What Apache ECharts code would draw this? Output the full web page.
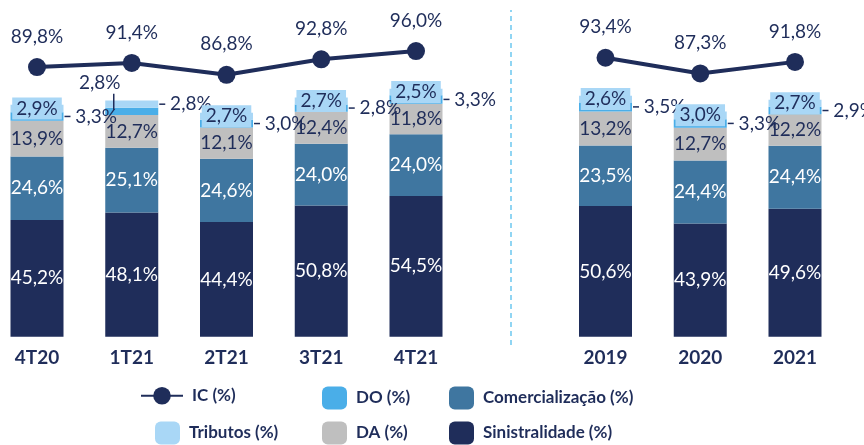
<!DOCTYPE html>
<html>
<head>
<meta charset="utf-8">
<script src="https://cdn.jsdelivr.net/npm/echarts@6/dist/echarts.min.js"></script>
<style>
  html, body { margin: 0; padding: 0; background: #fff; }
  #chart { width: 864px; height: 445px; }
</style>
</head>
<body>
<div id="chart"></div>
<script>
// periods (the empty slot is the gap between quarters and years)
const categories = ['4T20', '1T21', '2T21', '3T21', '4T21', '', '2019', '2020', '2021'];
const sinistralidade = [45.2, 48.1, 44.4, 50.8, 54.5, null, 50.6, 43.9, 49.6];
const comercializacao = [24.6, 25.1, 24.6, 24.0, 24.0, null, 23.5, 24.4, 24.4];
const da = [13.9, 12.7, 12.1, 12.4, 11.8, null, 13.2, 12.7, 12.2];
const doPct = [3.3, 2.8, 3.0, 2.8, 3.3, null, 3.5, 3.3, 2.9];
const tributos = [2.9, 2.8, 2.7, 2.7, 2.5, null, 2.6, 3.0, 2.7];
const ic = [89.8, 91.4, 86.8, 92.8, 96.0, null, 93.4, 87.3, 91.8];

const navy = '#1f2d5a';
const font = 'Lato';

function pct(v) {
  return v.toFixed(1).replace('.', ',') + '%';
}

const baseLabel = {
  show: true,
  position: 'inside',
  fontFamily: font,
  fontSize: 19,
  formatter: p => pct(p.value)
};

const richMarks = {
  l: { width: 6, height: 1.5, backgroundColor: navy },
  t: { fontFamily: font, fontSize: 19, color: navy, lineHeight: 22 },
  s: { width: 28, height: 16 },
  v: { width: 1.5, height: 16, backgroundColor: navy }
};

var myChart = echarts.init(document.getElementById('chart'));

let option = {
  animation: false,
  grid: { left: 37, right: 69, top: 6.4, bottom: 98 },
  xAxis: {
    type: 'category',
    data: categories,
    boundaryGap: false,
    axisLine: { show: false, onZero: false },
    axisTick: { show: false },
    axisLabel: { margin: 1, color: navy, fontFamily: font, fontWeight: 'bold', fontSize: 19 }
  },
  yAxis: [
    { type: 'value', min: -4, max: 128, show: false, splitLine: { show: false } },
    { type: 'value', min: -18.7, max: 113.3, show: false, splitLine: { show: false } }
  ],
  legend: [
    { data: ['IC (%)'], left: 140, top: 387, itemWidth: 42, itemHeight: 22 },
    { data: ['DO (%)'], left: 322, top: 386.5 },
    { data: ['Comercialização (%)'], left: 449, top: 386.5 },
    { data: ['Tributos (%)'], left: 155, top: 421.5 },
    { data: ['DA (%)'], left: 322, top: 421.5 },
    { data: ['Sinistralidade (%)'], left: 449, top: 421.5 }
  ].map(l => Object.assign({
    padding: 0,
    itemWidth: 25,
    itemHeight: 23,
    textStyle: { color: navy, fontFamily: font, fontWeight: 'bold', fontSize: 17, padding: [0, 0, 0, 4] }
  }, l)),
  series: [
    {
      name: 'Sinistralidade (%)',
      type: 'bar',
      stack: 'ic',
      barWidth: 53,
      data: sinistralidade,
      itemStyle: { color: navy },
      label: Object.assign({}, baseLabel, { color: '#fff' })
    },
    {
      name: 'Comercialização (%)',
      type: 'bar',
      stack: 'ic',
      data: comercializacao,
      itemStyle: { color: '#3f76a0' },
      label: Object.assign({}, baseLabel, { color: '#fff' })
    },
    {
      name: 'DA (%)',
      type: 'bar',
      stack: 'ic',
      data: da,
      itemStyle: { color: '#bfbfbf' },
      label: Object.assign({}, baseLabel, { color: navy }),
      markLine: {
        silent: true,
        symbol: 'none',
        label: { show: false },
        lineStyle: { color: '#6cc8f0', type: [5, 4], width: 1.5 },
        data: [[{ coord: [5, -3.2] }, { coord: [5, 126.6] }]]
      }
    },
    {
      name: 'DO (%)',
      type: 'bar',
      stack: 'ic',
      // 1T21: the DO label sits above the bar with a small vertical tick
      data: doPct.map((v, i) => i === 1
        ? { value: v, label: { position: 'top', distance: 0, offset: [-32, 2] } }
        : v),
      itemStyle: { color: '#4aaee8' },
      label: Object.assign({}, baseLabel, {
        position: 'right',
        distance: 1,
        color: navy,
        rich: richMarks,
        formatter: p => p.dataIndex === 1
          ? '{t|' + pct(p.value) + '}\n{s|}{v|}'
          : '{l|} ' + pct(p.value)
      })
    },
    {
      name: 'Tributos (%)',
      type: 'bar',
      stack: 'ic',
      data: tributos.map((v, i) => i === 1
        ? { value: v, label: { position: 'right', distance: 1, backgroundColor: 'transparent', padding: 0 } }
        : v),
      itemStyle: { color: '#a9d7f6' },
      label: Object.assign({}, baseLabel, {
        color: navy,
        backgroundColor: '#a9d7f6',
        padding: [1, 4],
        lineHeight: 20,
        rich: richMarks,
        formatter: p => p.dataIndex === 1 ? '{l|} ' + pct(p.value) : pct(p.value)
      })
    },
    {
      name: 'IC (%)',
      type: 'line',
      yAxisIndex: 1,
      data: ic,
      symbol: 'circle',
      symbolSize: 18,
      connectNulls: false,
      z: 5,
      lineStyle: { color: navy, width: 4 },
      itemStyle: { color: navy },
      label: {
        show: true,
        position: 'top',
        distance: 12,
        color: navy,
        fontFamily: font,
        fontSize: 19,
        formatter: p => pct(p.value)
      }
    }
  ]
};

myChart.setOption(option);
</script>
</body>
</html>
